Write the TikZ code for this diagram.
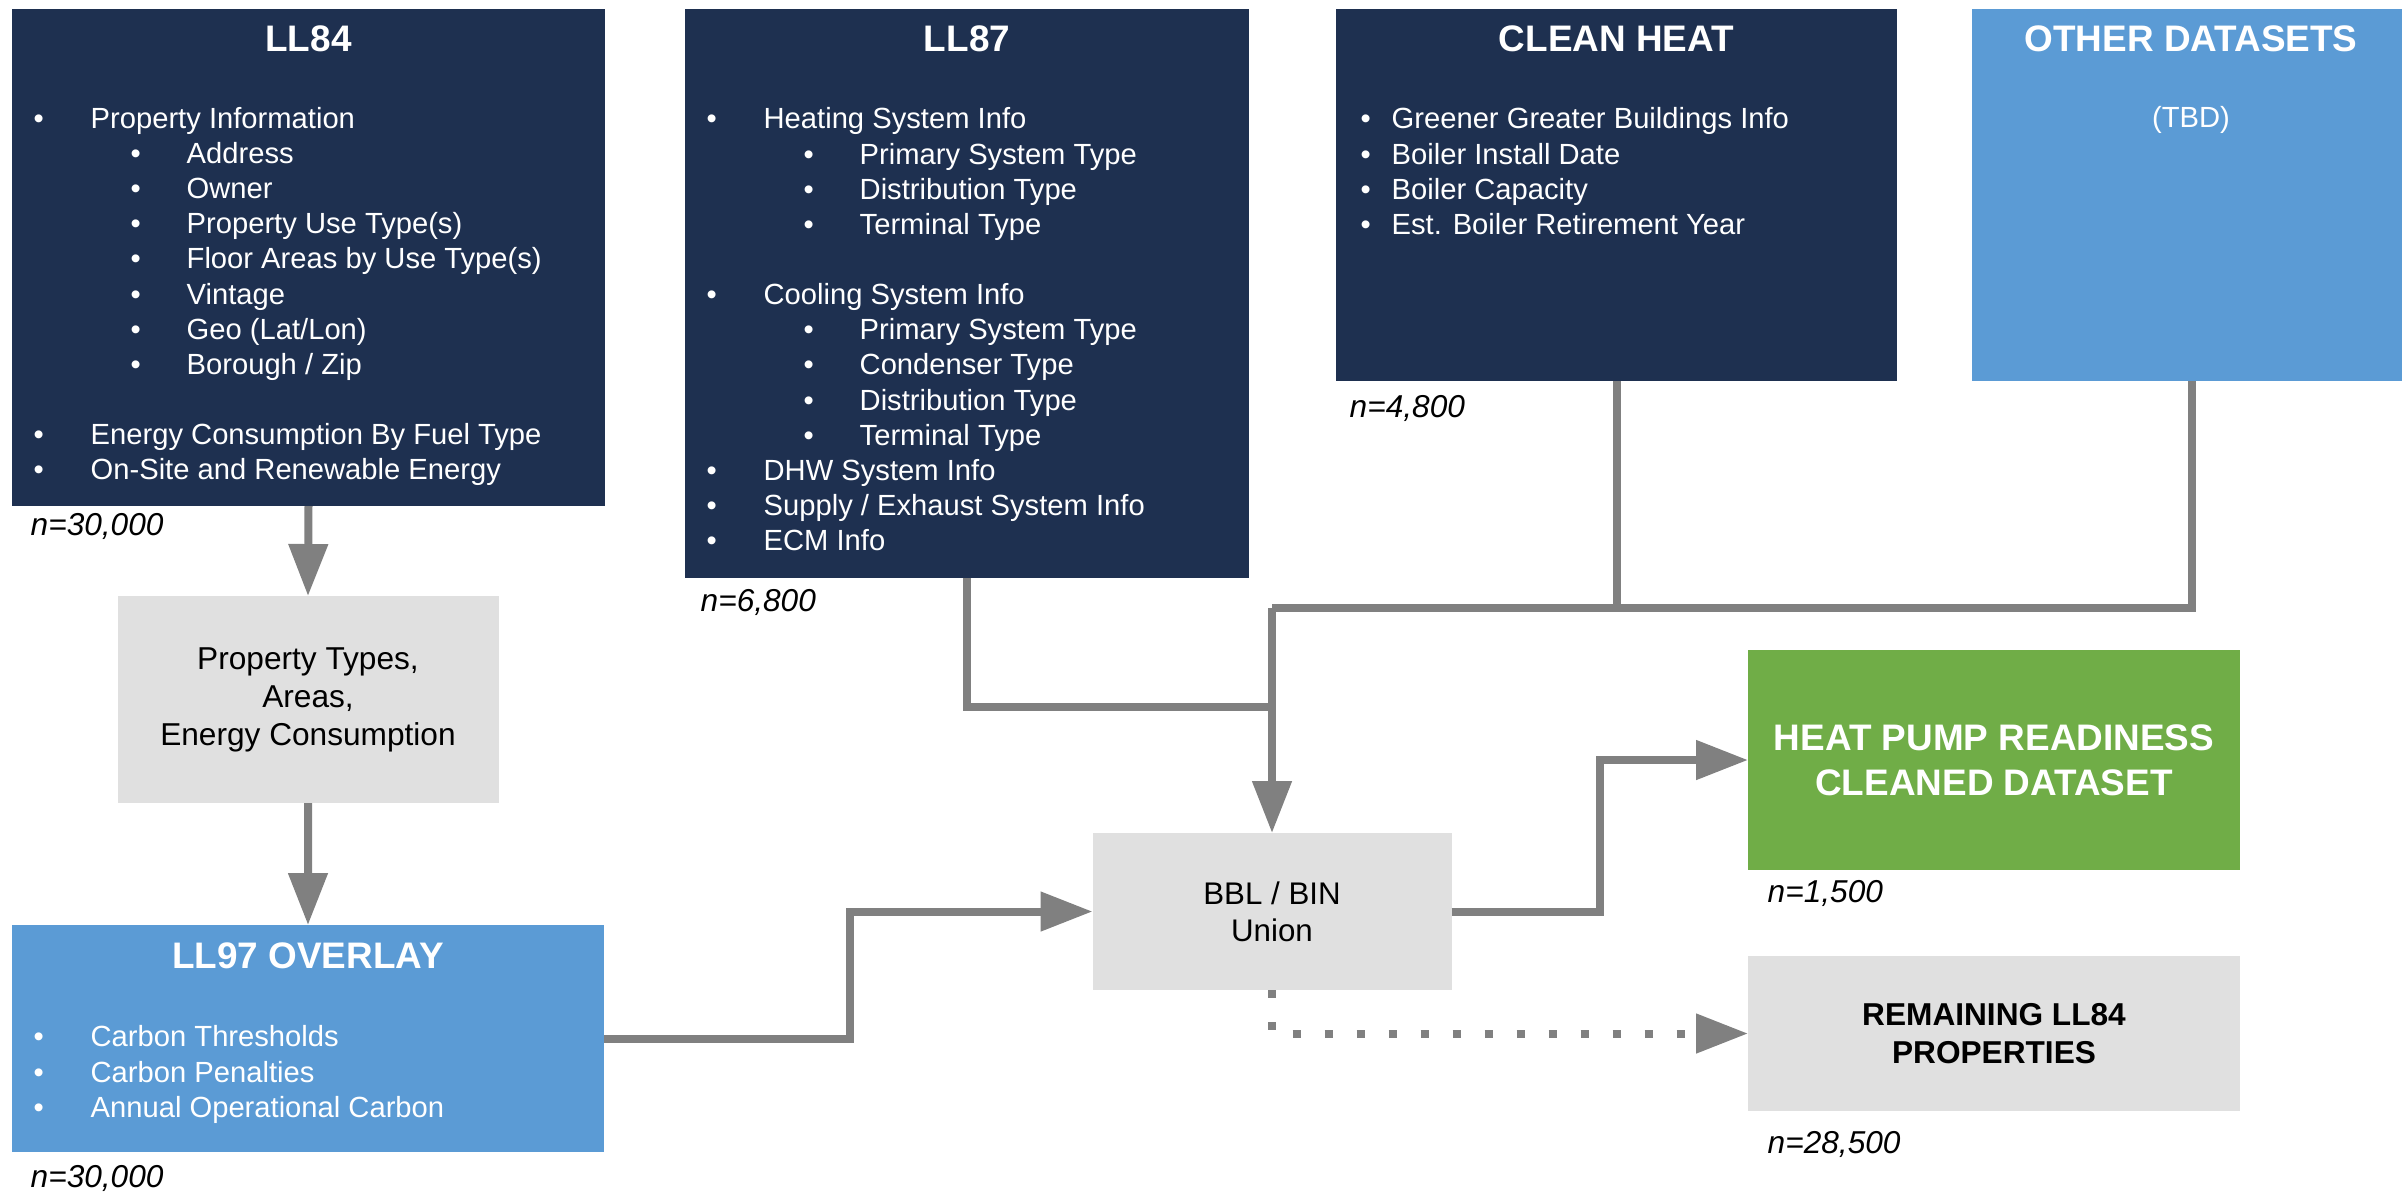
\documentclass[tikz,border=0pt]{standalone}
\usepackage{fontspec}
\setmainfont{Liberation Sans}
\usepackage{tikz}
\usetikzlibrary{arrows.meta}
\definecolor{navy}{HTML}{1E3050}
\definecolor{skyblue}{HTML}{5B9BD5}
\definecolor{leafgreen}{HTML}{70AD47}
\definecolor{lightgrey}{HTML}{E0E0E0}
\definecolor{arrowgrey}{HTML}{808080}
\newcommand{\bl}{\makebox[0.57cm][l]{\textbullet}}
\newcommand{\sbl}{\hspace*{0.97cm}\makebox[0.56cm][l]{\textbullet}}
\newcommand{\cbl}{\makebox[0.31cm][l]{\textbullet}}
\tikzset{box/.style={rectangle, inner sep=0pt, outer sep=0pt, anchor=north west},
  navybox/.style={box, fill=navy},
  bluebox/.style={box, fill=skyblue},
  greybox/.style={box, fill=lightgrey, align=center},
  greenbox/.style={box, fill=leafgreen, align=center, text=white},
  boxtitle/.style={anchor=base, inner sep=0pt, text=white, font=\fontsize{10.5}{12.6}\selectfont\bfseries},
  itemlist/.style={anchor=north west, inner sep=0pt, align=left, text=white, font=\fontsize{8.3}{10}\selectfont},
  countlabel/.style={anchor=base west, inner sep=0pt, font=\fontsize{9}{10.8}\selectfont\itshape},
  link/.style={draw=arrowgrey, line width=0.08cm},
  flow/.style={link, -{Triangle[length=0.52cm, width=0.38cm]}},
  leftover/.style={flow, dash pattern=on 0.08cm off 0.24cm}
}

\begin{document}
\begin{tikzpicture}
  \useasboundingbox (0,0) rectangle (24.02,-11.91);

  % source datasets
  \node[navybox, minimum width=5.93cm, minimum height=4.97cm] (ll84) at (0.12,-0.09) {};
  \node[boxtitle] (ll84title) at (3.085,-0.51) {LL84};
  \node[itemlist] (ll84list) at (0.33,-1.065) {\bl Property Information\\
    \sbl Address\\ \sbl Owner\\ \sbl Property Use Type(s)\\ \sbl Floor Areas by Use Type(s)\\
    \sbl Vintage\\ \sbl Geo (Lat/Lon)\\ \sbl Borough / Zip\\[10pt]
    \bl Energy Consumption By Fuel Type\\ \bl On-Site and Renewable Energy};
  \node[countlabel] (ll84n) at (0.30,-5.35) {n=30,000};

  \node[navybox, minimum width=5.64cm, minimum height=5.69cm] (ll87) at (6.85,-0.09) {};
  \node[boxtitle] (ll87title) at (9.67,-0.51) {LL87};
  \node[itemlist] (ll87list) at (7.06,-1.07) {\bl Heating System Info\\
    \sbl Primary System Type\\ \sbl Distribution Type\\ \sbl Terminal Type\\[10pt]
    \bl Cooling System Info\\
    \sbl Primary System Type\\ \sbl Condenser Type\\ \sbl Distribution Type\\ \sbl Terminal Type\\
    \bl DHW System Info\\ \bl Supply / Exhaust System Info\\ \bl ECM Info};
  \node[countlabel] (ll87n) at (7.00,-6.11) {n=6,800};

  \node[navybox, minimum width=5.61cm, minimum height=3.72cm] (clean) at (13.36,-0.09) {};
  \node[boxtitle] (cleantitle) at (16.165,-0.51) {CLEAN HEAT};
  \node[itemlist] (cleanlist) at (13.60,-1.07) {\cbl Greener Greater Buildings Info\\
    \cbl Boiler Install Date\\ \cbl Boiler Capacity\\ \cbl Est. Boiler Retirement Year};
  \node[countlabel] (cleann) at (13.49,-4.17) {n=4,800};

  \node[bluebox, minimum width=4.40cm, minimum height=3.72cm] (other) at (19.72,-0.09) {};
  \node[boxtitle] (othertitle) at (21.91,-0.51) {OTHER DATASETS};
  \node[itemlist, anchor=base] (othertbd) at (21.91,-1.27) {(TBD)};

  % left column
  \node[greybox, minimum width=3.81cm, minimum height=2.07cm, font=\fontsize{9}{10.8}\selectfont] (props) at (1.175,-5.96)
    {Property Types,\\Areas,\\Energy Consumption};
  \node[bluebox, minimum width=5.92cm, minimum height=2.27cm] (ll97) at (0.12,-9.25) {};
  \node[boxtitle] (ll97title) at (3.08,-9.68) {LL97 OVERLAY};
  \node[itemlist] (ll97list) at (0.33,-10.25) {\bl Carbon Thresholds\\ \bl Carbon Penalties\\ \bl Annual Operational Carbon};
  \node[countlabel] (ll97n) at (0.30,-11.87) {n=30,000};

  % merge and results
  \node[greybox, minimum width=3.59cm, minimum height=1.57cm, font=\fontsize{8.9}{10.6}\selectfont] (bbl) at (10.925,-8.33)
    {BBL / BIN\\Union};
  \node[greenbox, minimum width=4.92cm, minimum height=2.20cm, font=\fontsize{10.5}{12.8}\selectfont\bfseries] (hp) at (17.48,-6.50)
    {HEAT PUMP READINESS\\CLEANED DATASET};
  \node[countlabel] (hpn) at (17.67,-9.02) {n=1,500};
  \node[greybox, minimum width=4.92cm, minimum height=1.55cm, font=\fontsize{9}{10.8}\selectfont\bfseries] (rem) at (17.48,-9.56)
    {REMAINING LL84\\PROPERTIES};
  \node[countlabel] (remn) at (17.67,-11.53) {n=28,500};

  \coordinate (topjoin) at (bbl.north |- 0,-6.08);
  \coordinate (ll87join) at (bbl.north |- 0,-7.07);

  \draw[flow] (ll84.south) -- (props.north);
  \draw[flow] (props.south) -- (ll97.north);
  \draw[link] (other.south) |- (topjoin);
  \draw[link] (clean.south) -- (clean.south |- topjoin);
  \draw[link] (ll87.south) |- (ll87join);
  \draw[flow] (topjoin) -- (bbl.north);
  \draw[flow] (ll97.east) -- ++(2.46,0) |- (bbl.west);
  \draw[flow] (bbl.east) -- ++(1.48,0) |- (hp.west);
  \draw[leftover] (bbl.south) |- (rem.west);
\end{tikzpicture}
\end{document}
